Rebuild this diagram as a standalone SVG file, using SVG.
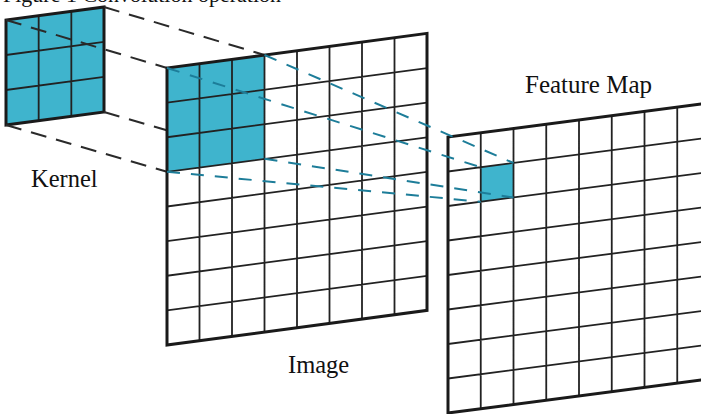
<svg xmlns="http://www.w3.org/2000/svg" width="701" height="414" viewBox="0 0 701 414">
<style>
.lbl{font-family:"Liberation Serif","Times New Roman",serif;fill:#111;}
.border{fill:none;stroke:#1a1a1a;stroke-width:3;stroke-linejoin:miter;}
.grid{fill:none;stroke:#222;stroke-width:1.8;}
.cell{fill:#3fb4cd;stroke:none;}
.bg{fill:#fff;stroke:none;}
.dash-k{fill:none;stroke:#2a2a2a;stroke-width:2;stroke-dasharray:16 10;}
.dash-t{fill:none;stroke:#1d7d99;stroke-width:2;stroke-dasharray:13 11;}
</style>
<rect x="0" y="0" width="701" height="414" fill="#fff"/>
<text class="lbl" x="3" y="1.5" font-size="22">Figure 1 Convolution operation</text>

<g id="kernel">
  <g transform="matrix(1,-0.133,0,1,6,20)">
    <rect class="cell" x="0" y="0" width="98" height="105"/>
    <path class="grid" d="M32.67 0V105M65.33 0V105M0 35H98M0 70H98"/>
    <rect class="border" x="0" y="0" width="98" height="105"/>
  </g>
  <text class="lbl" x="31" y="187" font-size="24.5">Kernel</text>
</g>

<g id="connectors-kernel">
  <path class="dash-k" d="M6 20L167 68"/>
  <path class="dash-k" d="M104 7L264.5 55"/>
  <path class="dash-k" d="M6 125L167 171.8"/>
  <path class="dash-k" d="M104 112L264.5 158.8"/>
</g>

<g id="image">
  <g transform="matrix(1,-0.133,0,1,167,68)">
    <rect class="bg" x="0" y="0" width="260" height="277"/>
    <rect class="cell" x="0" y="0" width="97.5" height="103.875"/>
    <path class="grid" d="M32.5 0V277M65 0V277M97.5 0V277M130 0V277M162.5 0V277M195 0V277M227.5 0V277M0 34.625H260M0 69.25H260M0 103.875H260M0 138.5H260M0 173.125H260M0 207.75H260M0 242.375H260"/>
    <rect class="border" x="0" y="0" width="260" height="277"/>
  </g>
  <text class="lbl" x="288" y="373" font-size="24.5">Image</text>
</g>

<g id="feature-map">
  <g transform="matrix(1,-0.130,0,1,448,137)">
    <rect class="bg" x="0" y="0" width="262" height="276"/>
    <rect class="cell" x="32.75" y="34.5" width="32.75" height="34.5"/>
    <path class="grid" d="M32.75 0V276M65.5 0V276M98.25 0V276M131 0V276M163.75 0V276M196.5 0V276M229.25 0V276M0 34.5H262M0 69H262M0 103.5H262M0 138H262M0 172.5H262M0 207H262M0 241.5H262"/>
    <rect class="border" x="0" y="0" width="262" height="276"/>
  </g>
  <text class="lbl" x="525" y="93" font-size="25">Feature Map</text>
</g>

<g id="connectors">
  <path class="dash-t" d="M167 68L480.75 167.24"/>
  <path class="dash-t" d="M264.5 55L513.5 163"/>
  <path class="dash-t" d="M167 171.8L480.75 201.74"/>
  <path class="dash-t" d="M264.5 158.8L513.5 197.5"/>
</g>
</svg>
